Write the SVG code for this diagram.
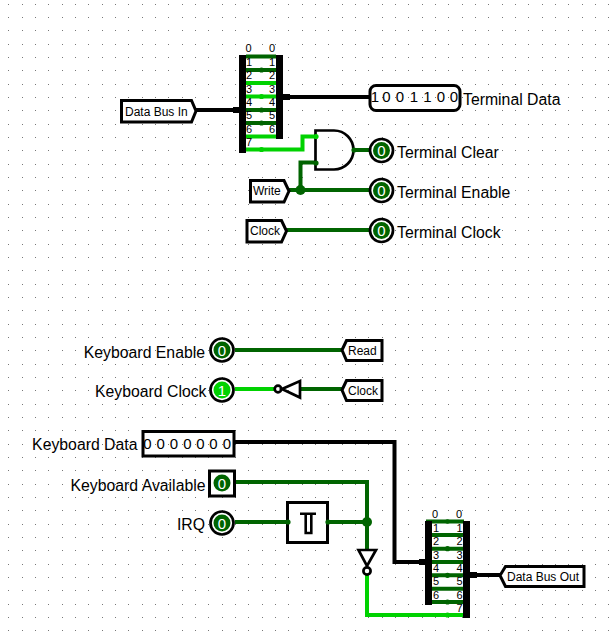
<svg xmlns="http://www.w3.org/2000/svg" width="611" height="639" viewBox="0 0 611 639">
<style>
text{font-family:"Liberation Sans",Arial,sans-serif;fill:#000}
.lbl{font-size:15.800px}
.end{text-anchor:end}
.tun{font-size:12px}
.sp{font-size:11px}
.mid{text-anchor:middle}
.val{font-size:15px;text-anchor:middle}
.pv{font-size:15px;text-anchor:middle;fill:#fff}
.w0,.w1,.bus{fill:none;stroke-width:4;stroke-linejoin:miter}
.w0{stroke:#006400}.w1{stroke:#00d200}.bus{stroke:#000}
.d0{fill:#006400}.d1{fill:#00d200}.k{fill:#000}
.out{fill:#fff;stroke:#000;stroke-width:3}
.hol{fill:none;stroke:#000;stroke-width:3}
.gate{fill:none;stroke:#000;stroke-width:2.700}
.ring{fill:#fff;stroke:#000;stroke-width:2.700}
</style>
<defs>
<pattern id="grid" width="40" height="40" patternUnits="userSpaceOnUse">
<path d="M8 4h1v1h-1zM22 4h1v1h-1zM35 4h1v1h-1zM8 17h1v1h-1zM22 17h1v1h-1zM35 17h1v1h-1zM8 30h1v1h-1zM22 30h1v1h-1zM35 30h1v1h-1z" fill="#777"/>
</pattern>
</defs>
<rect width="611" height="639" fill="#fff"/>
<rect width="611" height="639" fill="url(#grid)"/>

<g id="splitter-in">
<rect x="243" y="55" width="36" height="96" fill="#fff"/>
<path class="w0" d="M246 56.500H276M246 70H276M246 110H276M246 123H276"/>
<circle cx="261.500" cy="70" r="2.600" class="d0"/>
<circle cx="261.500" cy="110" r="2.600" class="d0"/>
<circle cx="261.500" cy="123" r="2.600" class="d0"/>
<path class="w1" d="M246 83H276M246 96.500H276M246 136.500H276"/>
<circle cx="261.500" cy="96.500" r="2.600" class="d1"/>
<rect class="k" x="239" y="55" width="7" height="98"/>
<rect class="k" x="276" y="55" width="7" height="84"/>
<rect class="k" x="233" y="107" width="7" height="6"/>
<rect class="k" x="283" y="94" width="7" height="6"/>
<text class="sp mid" x="248.500" y="52">0</text><text class="sp mid" x="272" y="52">0</text>
<text class="sp" x="246" y="66">1</text><text class="sp" x="246" y="79.300">2</text><text class="sp" x="246" y="92.700">3</text><text class="sp" x="246" y="106">4</text><text class="sp" x="246" y="119.300">5</text><text class="sp" x="246" y="132.700">6</text><text class="sp" x="246" y="146">7</text>
<text class="sp end" x="275" y="66">1</text><text class="sp end" x="275" y="79.300">2</text><text class="sp end" x="275" y="92.700">3</text><text class="sp end" x="275" y="106">4</text><text class="sp end" x="275" y="119.300">5</text><text class="sp end" x="275" y="132.700">6</text>
</g>

<g id="splitter-out">
<rect x="429" y="521" width="36" height="96" fill="#fff"/>
<path class="w0" d="M426 521.500H464" stroke-width="2.500"/>
<path class="w0" d="M431 535H464M431 548.700H464M431 562H464M431 575.300H464M431 588.700H464M431 602H464"/>
<circle class="d0" cx="447.500" cy="521.500" r="2.300"/><circle class="d0" cx="447.500" cy="548.700" r="2.600"/><circle class="d0" cx="447.500" cy="575.300" r="2.600"/><circle class="d0" cx="447.500" cy="602" r="2.600"/>
<rect class="k" x="425" y="521" width="7" height="84"/>
<rect class="k" x="463" y="521" width="7" height="97"/>
<rect class="k" x="419" y="559" width="6" height="6"/>
<rect class="k" x="470" y="572" width="7" height="6"/>
<text class="sp mid" x="435" y="518">0</text><text class="sp mid" x="459" y="518">0</text>
<text class="sp" x="433" y="532">1</text><text class="sp" x="433" y="545">2</text><text class="sp" x="433" y="558.500">3</text><text class="sp" x="433" y="572">4</text><text class="sp" x="433" y="585">5</text><text class="sp" x="433" y="598.500">6</text>
<text class="sp end" x="462.500" y="532">1</text><text class="sp end" x="462.500" y="545">2</text><text class="sp end" x="462.500" y="558.500">3</text><text class="sp end" x="462.500" y="572">4</text><text class="sp end" x="462.500" y="585">5</text><text class="sp end" x="462.500" y="598.500">6</text><text class="sp end" x="462.500" y="611.500">7</text>
</g>

<g id="connectors">
<path class="bus" d="M196 110H240"/>
<path class="bus" d="M283 97H369"/>
<path class="w1" d="M246 149.500H302.500V136.500H316"/>
<path class="w0" d="M300.500 190V162.500H316"/>
<path class="w0" d="M289 190H369"/>
<path class="w0" d="M286 230H369"/>
<path class="w0" d="M353 150H369"/>
<path class="w0" d="M235 350H342"/>
<path class="w1" d="M235 389H275"/>
<path class="w0" d="M300 389H342"/>
<path class="bus" d="M235 442H394.500V562H425"/>
<path class="w0" d="M235 482H367V549"/>
<path class="w0" d="M235 522H288"/>
<path class="w0" d="M328 522H367"/>
<path class="w1" d="M367 575V615H463"/>
<path class="bus" d="M469 575H500"/>
<circle class="d0" cx="300.500" cy="190" r="5"/>
<circle class="d0" cx="367" cy="522" r="5"/>
<circle class="d1" cx="261.500" cy="149.500" r="2.600"/>
<circle class="d1" cx="447.500" cy="615" r="2.600"/>
</g>

<g id="data-bus-in">
<path class="out" d="M121.500 100.500H191.500L196 111L191.500 122H121.500Z"/>
<text class="tun" x="125" y="116">Data Bus In</text>
</g>

<g id="terminal-data">
<rect class="hol" x="370" y="85.500" width="90" height="25" rx="6"/>
<text class="val" x="375" y="102">1</text><text class="val" x="386.500" y="102">0</text><text class="val" x="400" y="102">0</text><text class="val" x="414" y="102">1</text><text class="val" x="427.500" y="102">1</text><text class="val" x="441" y="102">0</text><text class="val" x="454" y="102">0</text>
<text class="lbl" x="463" y="105">Terminal Data</text>
</g>

<g id="and-gate">
<path class="gate" d="M315.500 130.500H334A19.500 19.500 0 0 1 334 169.500H315.500Z"/>
<circle class="d1" cx="316" cy="136.500" r="2.600"/>
<circle class="d0" cx="316" cy="163" r="2.600"/>
<circle class="d0" cx="354" cy="150" r="2.600"/>
</g>

<g id="terminal-clear">
<circle class="ring" cx="381.500" cy="150.500" r="11.500"/><circle class="d0" cx="381.500" cy="150.500" r="8.500"/>
<text class="pv" x="381.500" y="156">0</text>
<text class="lbl" x="397" y="157.500">Terminal Clear</text>
</g>
<g id="terminal-enable">
<circle class="ring" cx="381.500" cy="190.500" r="11.500"/><circle class="d0" cx="381.500" cy="190.500" r="8.500"/>
<text class="pv" x="381.500" y="196">0</text>
<text class="lbl" x="397" y="197.500">Terminal Enable</text>
</g>
<g id="terminal-clock">
<circle class="ring" cx="381.500" cy="230.500" r="11.500"/><circle class="d0" cx="381.500" cy="230.500" r="8.500"/>
<text class="pv" x="381.500" y="236">0</text>
<text class="lbl" x="397" y="237.500">Terminal Clock</text>
</g>

<g id="write">
<path class="out" d="M250.500 180.500H284L289 191L284 202H250.500Z"/>
<text class="tun" x="253" y="195">Write</text>
</g>
<g id="clock-top">
<path class="out" d="M247 220.500H281.500L286.500 231L281.500 242H247Z"/>
<text class="tun" x="250" y="235">Clock</text>
</g>

<g id="keyboard-enable">
<circle class="ring" cx="222" cy="350" r="11.500"/><circle class="d0" cx="222" cy="350" r="8.500"/>
<text class="pv" x="222" y="355.500">0</text>
<text class="lbl end" x="205" y="357.500">Keyboard Enable</text>
</g>
<g id="keyboard-clock">
<circle class="ring" cx="222" cy="390" r="11.500"/><circle class="d1" cx="222" cy="390" r="8.500"/>
<text class="pv" x="222" y="395.500">1</text>
<text class="lbl end" x="206.500" y="397">Keyboard Clock</text>
</g>

<g id="read">
<path class="out" d="M342 350L346.500 340.500H382V360.500H346.500Z"/>
<text class="tun" x="348" y="355">Read</text>
</g>
<g id="clock-bottom">
<path class="out" d="M342 390L346.500 380.500H382V400.500H346.500Z"/>
<text class="tun" x="348" y="395">Clock</text>
</g>

<g id="inverter-clock">
<path class="gate" d="M282 389L300 381V397.500Z"/>
<circle class="gate" cx="278" cy="389" r="3.300"/>
</g>

<g id="keyboard-data">
<rect class="hol" x="143" y="431.500" width="91" height="24.500"/>
<text class="val" x="147.500" y="449">0</text><text class="val" x="160.700" y="449">0</text><text class="val" x="174" y="449">0</text><text class="val" x="187.300" y="449">0</text><text class="val" x="200.500" y="449">0</text><text class="val" x="213.500" y="449">0</text><text class="val" x="227" y="449">0</text>
<text class="lbl end" x="137.500" y="450">Keyboard Data</text>
</g>

<g id="keyboard-available">
<rect class="out" x="209.500" y="471" width="25" height="25"/><circle class="d0" cx="222" cy="483" r="8.500"/>
<text class="pv" x="222" y="488.500">0</text>
<text class="lbl end" x="205.500" y="491">Keyboard Available</text>
</g>

<g id="irq">
<circle class="ring" cx="222" cy="523" r="11.500"/><circle class="d0" cx="222" cy="523" r="8.500"/>
<text class="pv" x="222" y="528.500">0</text>
<text class="lbl end" x="205" y="530">IRQ</text>
</g>

<g id="schmitt-buffer">
<rect class="out" x="287.500" y="502.500" width="40" height="40"/>
<path d="M300 513.700H316M305.700 513.700V533H311.300V513.700" fill="none" stroke="#000" stroke-width="2.600"/>
<circle class="d0" cx="288" cy="522" r="2.600"/>
<circle class="d0" cx="328" cy="522" r="2.600"/>
</g>

<g id="inverter-irq">
<path class="gate" d="M358.500 550H376L367 566Z"/>
<circle class="gate" cx="367" cy="571" r="3.600"/>
</g>

<g id="data-bus-out">
<path class="out" d="M500 575.500L505.500 566.500H584V586.500H505.500Z"/>
<text class="tun" x="507" y="580.500">Data Bus Out</text>
</g>
</svg>
